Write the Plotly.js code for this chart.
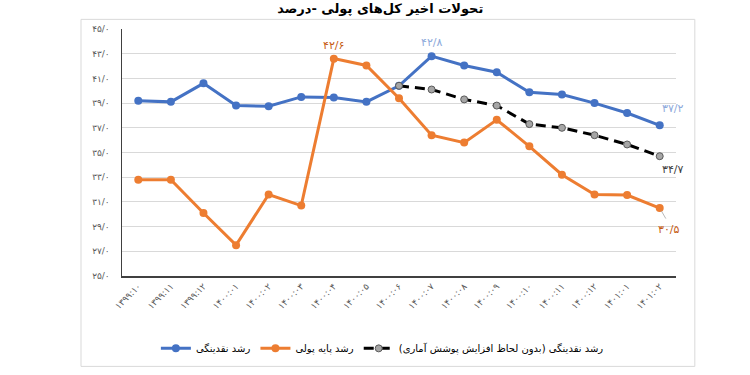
<!DOCTYPE html>
<html>
<head>
<meta charset="utf-8">
<script src="https://cdn.plot.ly/plotly-3.0.1.min.js"></script>
<style>html,body{margin:0;padding:0;background:#fff;}#chart{width:750px;height:375px;}</style>
</head>
<body>
<div id="chart"></div>
<script>
const categories = ['۱۳۹۹:۱۰','۱۳۹۹:۱۱','۱۳۹۹:۱۲','۱۴۰۰:۰۱','۱۴۰۰:۰۲','۱۴۰۰:۰۳','۱۴۰۰:۰۴','۱۴۰۰:۰۵','۱۴۰۰:۰۶','۱۴۰۰:۰۷','۱۴۰۰:۰۸','۱۴۰۰:۰۹','۱۴۰۰:۱۰','۱۴۰۰:۱۱','۱۴۰۰:۱۲','۱۴۰۱:۰۱','۱۴۰۱:۰۲'];
const liquidityGrowth = [39.2, 39.1, 40.6, 38.8, 38.75, 39.5, 39.45, 39.1, 40.4, 42.8, 42.05, 41.5, 39.87, 39.7, 39.0, 38.2, 37.2];
const monetaryBaseGrowth = [32.8, 32.8, 30.1, 27.5, 31.6, 30.7, 42.6, 42.05, 39.4, 36.4, 35.8, 37.65, 35.5, 33.2, 31.6, 31.55, 30.5];
const adjustedLiquidityGrowth = [null, null, null, null, null, null, null, null, 40.4, 40.1, 39.3, 38.8, 37.3, 37.0, 36.4, 35.65, 34.7];
const seriesNames = ['رشد نقدینگی', 'رشد پایه پولی', 'رشد نقدینگی (بدون لحاظ افزایش پوشش آماری)\u200F'];
const yTickVals = [25, 27, 29, 31, 33, 35, 37, 39, 41, 43, 45];
const yTickText = ['۲۵/۰','۲۷/۰','۲۹/۰','۳۱/۰','۳۳/۰','۳۵/۰','۳۷/۰','۳۹/۰','۴۱/۰','۴۳/۰','۴۵/۰'];
const titleText = 'تحولات اخیر کل\u200Cهای پولی -درصد';
// data labels: [series, index, text]
const dataLabels = [
  ['liq', 9, '۴۲/۸'],
  ['base', 6, '۴۲/۶'],
  ['liq', 16, '۳۷/۲'],
  ['adj', 16, '۳۴/۷'],
  ['base', 16, '۳۰/۵']
];

const F = 'DejaVu Sans, Noto Sans, sans-serif';
const series = {liq: liquidityGrowth, base: monetaryBaseGrowth, adj: adjustedLiquidityGrowth};

const traces = [
  {x: categories, y: liquidityGrowth, name: seriesNames[0], type: 'scatter', mode: 'lines+markers',
   line: {color: '#4472C4', width: 3}, marker: {color: '#4472C4', size: 8}},
  {x: categories, y: monetaryBaseGrowth, name: seriesNames[1], type: 'scatter', mode: 'lines+markers',
   line: {color: '#ED7D31', width: 3}, marker: {color: '#ED7D31', size: 8}},
  {x: categories, y: adjustedLiquidityGrowth, name: seriesNames[2], type: 'scatter', mode: 'lines+markers',
   line: {color: '#000000', width: 3, dash: '10px,6px'},
   marker: {color: '#a6a6a6', size: 7, line: {color: '#595959', width: 1}}}
];

const labelStyle = {
  liq9: {color: '#8eaadb', xshift: 0, yshift: 14},
  base6: {color: '#c55a11', xshift: 0, yshift: 13},
  liq16: {color: '#8eaadb', xshift: 13, yshift: 17},
  adj16: {color: '#404040', xshift: 13, yshift: -13},
  base16: {color: '#c55a11', xshift: 9, yshift: -21}
};

const annotations = dataLabels.map(([s, i, t]) => {
  const st = labelStyle[s + i];
  return {x: categories[i], y: series[s][i], xref: 'x', yref: 'y', text: t, showarrow: false,
    xshift: st.xshift, yshift: st.yshift, font: {family: F, size: 11, color: st.color}};
});
annotations.push({x: categories[16], y: monetaryBaseGrowth[16], xref: 'x', yref: 'y', text: '',
  showarrow: true, ax: 7, ay: 12, arrowhead: 0, arrowwidth: 0.8, arrowcolor: '#a6a6a6', standoff: 3});

const layout = {
  width: 750, height: 375,
  margin: {l: 122, r: 74, t: 29, b: 99},
  paper_bgcolor: '#ffffff', plot_bgcolor: '#ffffff',
  font: {family: F, color: '#404040'},
  title: {text: '<b>' + titleText + '</b>', x: 0.507, xanchor: 'center', y: 1, yanchor: 'top',
          yref: 'container', pad: {t: 4}, font: {family: F, size: 13, color: '#000000'}},
  xaxis: {type: 'category', range: [-0.5, 16.5], tickangle: -45, showgrid: false,
          showline: true, linecolor: '#404040', linewidth: 1.5, ticks: '',
          tickfont: {family: F, size: 9, color: '#595959'}, fixedrange: true},
  yaxis: {range: [25, 45], tickvals: yTickVals, ticktext: yTickText, showgrid: true,
          gridcolor: '#d9d9d9', gridwidth: 1, showline: true, linecolor: '#404040', linewidth: 1.5,
          ticks: '', ticklabelstandoff: 9, zeroline: false,
          tickfont: {family: F, size: 9, color: '#595959'}, fixedrange: true},
  showlegend: true,
  legend: {orientation: 'h', x: 0.47, xanchor: 'center', y: -0.293, yanchor: 'middle',
           font: {family: F, size: 10, color: '#000000'}, itemwidth: 30, itemgap: 42, traceorder: 'normal'},
  annotations: annotations,
  shapes: [{type: 'rect', xref: 'paper', yref: 'paper', x0: -0.074, x1: 1.034, y0: -0.366, y1: 1.039,
            line: {color: '#d9d9d9', width: 1}, fillcolor: 'rgba(0,0,0,0)', layer: 'below'}]
};

Plotly.newPlot('chart', traces, layout, {displayModeBar: false, staticPlot: true});
</script>
</body>
</html>
